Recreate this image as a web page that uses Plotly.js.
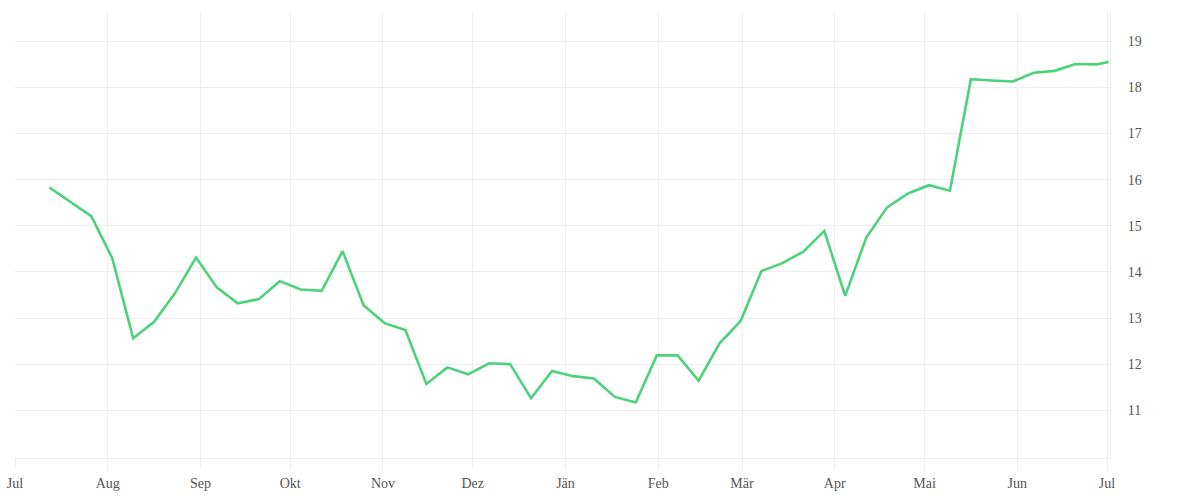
<!DOCTYPE html>
<html>
<head>
<meta charset="utf-8">
<script src="https://cdn.plot.ly/plotly-3.0.1.min.js"></script>
<style>html,body{margin:0;padding:0;background:#fff;}#chart{width:1200px;height:500px;}</style>
</head>
<body>
<div id="chart"></div>
<script>
const dates = [
  "2022-07-12 12:00","2022-07-19 12:00","2022-07-26 12:00","2022-08-02 12:00","2022-08-09 12:00","2022-08-16 12:00","2022-08-23 12:00","2022-08-30 12:00",
  "2022-09-06 12:00","2022-09-13 12:00","2022-09-20 12:00","2022-09-27 12:00","2022-10-04 12:00","2022-10-11 12:00","2022-10-18 12:00","2022-10-25 12:00",
  "2022-11-01 12:00","2022-11-08 12:00","2022-11-15 12:00","2022-11-22 12:00","2022-11-29 12:00","2022-12-06 12:00","2022-12-13 12:00","2022-12-20 12:00",
  "2022-12-27 12:00","2023-01-03 12:00","2023-01-10 12:00","2023-01-17 12:00","2023-01-24 12:00","2023-01-31 12:00","2023-02-07 12:00","2023-02-14 12:00",
  "2023-02-21 12:00","2023-02-28 12:00","2023-03-07 12:00","2023-03-14 12:00","2023-03-21 12:00","2023-03-28 12:00","2023-04-04 12:00","2023-04-11 12:00",
  "2023-04-18 12:00","2023-04-25 12:00","2023-05-02 12:00","2023-05-09 12:00","2023-05-16 12:00","2023-05-23 12:00","2023-05-30 12:00","2023-06-06 12:00",
  "2023-06-13 12:00","2023-06-20 12:00","2023-06-27 12:00","2023-07-01 14:00"
];
const values = [
  15.83,15.52,15.21,14.30,12.56,12.92,13.54,14.31,
  13.66,13.32,13.41,13.80,13.62,13.59,14.45,13.28,
  12.89,12.74,11.57,11.93,11.78,12.02,12.00,11.26,
  11.85,11.74,11.69,11.29,11.17,12.19,12.19,11.64,
  12.45,12.93,14.02,14.19,14.44,14.89,13.48,14.74,
  15.40,15.70,15.88,15.76,18.18,18.15,18.13,18.32,
  18.36,18.51,18.50,18.55
];
const monthTicks = ["2022-07-01","2022-08-01","2022-09-01","2022-10-01","2022-11-01","2022-12-01",
  "2023-01-01","2023-02-01","2023-03-01","2023-04-01","2023-05-01","2023-06-01","2023-07-01"];
const monthLabels = ["Jul","Aug","Sep","Okt","Nov","Dez","Jän","Feb","Mär","Apr","Mai","Jun","Jul"];
const yTicks = [11,12,13,14,15,16,17,18,19];

const trace = {
  x: dates, y: values, type: "scatter", mode: "lines",
  line: {color: "#4cd27a", width: 2.6},
  hoverinfo: "x+y"
};
const font = {family: "Liberation Serif, serif", size: 14, color: "#555"};
const layout = {
  width: 1200, height: 500,
  margin: {l: 15, r: 90, t: 12, b: 42},
  paper_bgcolor: "#fff", plot_bgcolor: "#fff",
  showlegend: false,
  font: font,
  xaxis: {
    type: "date",
    range: ["2022-07-01", "2023-07-02"],
    tickmode: "array", tickvals: monthTicks, ticktext: monthLabels,
    showgrid: true, gridcolor: "#eeeeee", gridwidth: 1,
    ticks: "outside", ticklen: 10, tickcolor: "#eeeeee", tickwidth: 1,
    ticklabelstandoff: 2,
    showline: true, linecolor: "#eeeeee", linewidth: 1,
    zeroline: false, tickfont: font
  },
  yaxis: {
    side: "right",
    range: [9.965, 19.636],
    tickmode: "array", tickvals: yTicks, ticktext: yTicks.map(String),
    showgrid: true, gridcolor: "#eeeeee", gridwidth: 1,
    ticks: "", ticklabelstandoff: 14,
    showline: true, linecolor: "#eeeeee", linewidth: 1, mirror: false,
    zeroline: false, tickfont: font
  }
};
Plotly.newPlot("chart", [trace], layout, {displayModeBar: false, staticPlot: true});
</script>
</body>
</html>
